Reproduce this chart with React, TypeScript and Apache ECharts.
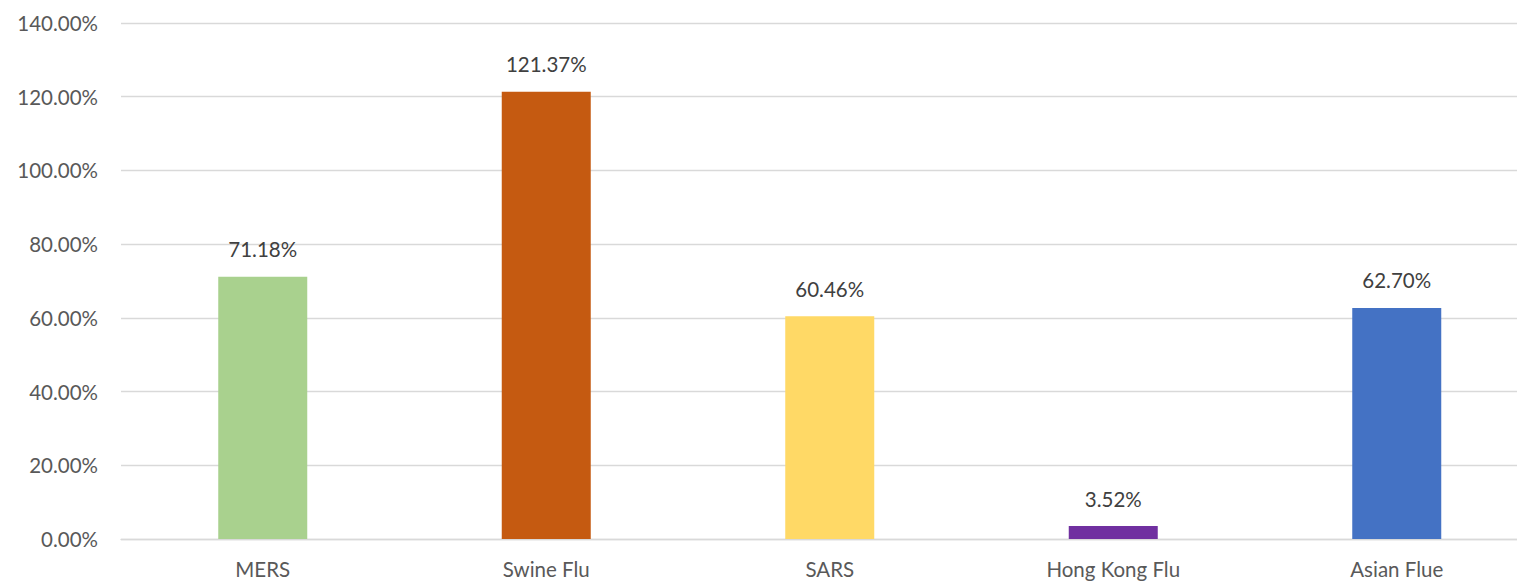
import React, { useEffect, useRef } from "react";
import * as echarts from "echarts";

const categories = ["MERS", "Swine Flu", "SARS", "Hong Kong Flu", "Asian Flue"];
const values = [71.18, 121.37, 60.46, 3.52, 62.7];
const barColors = ["#A9D18E", "#C55A11", "#FFD966", "#7030A0", "#4472C4"];
const yTicks = { min: 0, max: 140, interval: 20 };

const FONT = "Lato, 'Noto Sans', sans-serif";

export default function App() {
  const ref = useRef<HTMLDivElement>(null);

  useEffect(() => {
    if (!ref.current) return;
    const chart = echarts.init(ref.current, undefined, { renderer: "svg" });
    chart.setOption({
      animation: false,
      backgroundColor: "#ffffff",
      grid: { left: 121, top: 23, width: 1417.5, height: 516, containLabel: false },
      xAxis: {
        type: "category",
        data: categories,
        axisLine: { show: true, lineStyle: { color: "#d9d9d9", width: 1.3 } },
        axisTick: { show: false },
        axisLabel: { color: "#595959", fontFamily: FONT, fontSize: 20.5, margin: 19 },
      },
      yAxis: {
        type: "value",
        min: yTicks.min,
        max: yTicks.max,
        interval: yTicks.interval,
        axisLine: { show: false },
        axisTick: { show: false },
        splitLine: { lineStyle: { color: "#d9d9d9", width: 1.3 } },
        axisLabel: {
          color: "#595959",
          fontFamily: FONT,
          fontSize: 20.5,
          margin: 23,
          formatter: (v: number) => v.toFixed(2) + "%",
        },
      },
      series: [
        {
          type: "bar",
          barWidth: 89,
          data: values.map((v, i) => ({ value: v, itemStyle: { color: barColors[i] } })),
          label: {
            show: true,
            position: "top",
            distance: 17,
            color: "#404040",
            fontFamily: FONT,
            fontSize: 20.5,
            formatter: (p: any) => Number(p.value).toFixed(2) + "%",
          },
        },
      ],
    });
    return () => chart.dispose();
  }, []);

  return (
    <div style={{ position: "fixed", left: 0, top: 0, width: 1517, height: 581, overflow: "hidden", background: "#fff" }}>
      <div ref={ref} style={{ width: 1545, height: 581 }} />
    </div>
  );
}
